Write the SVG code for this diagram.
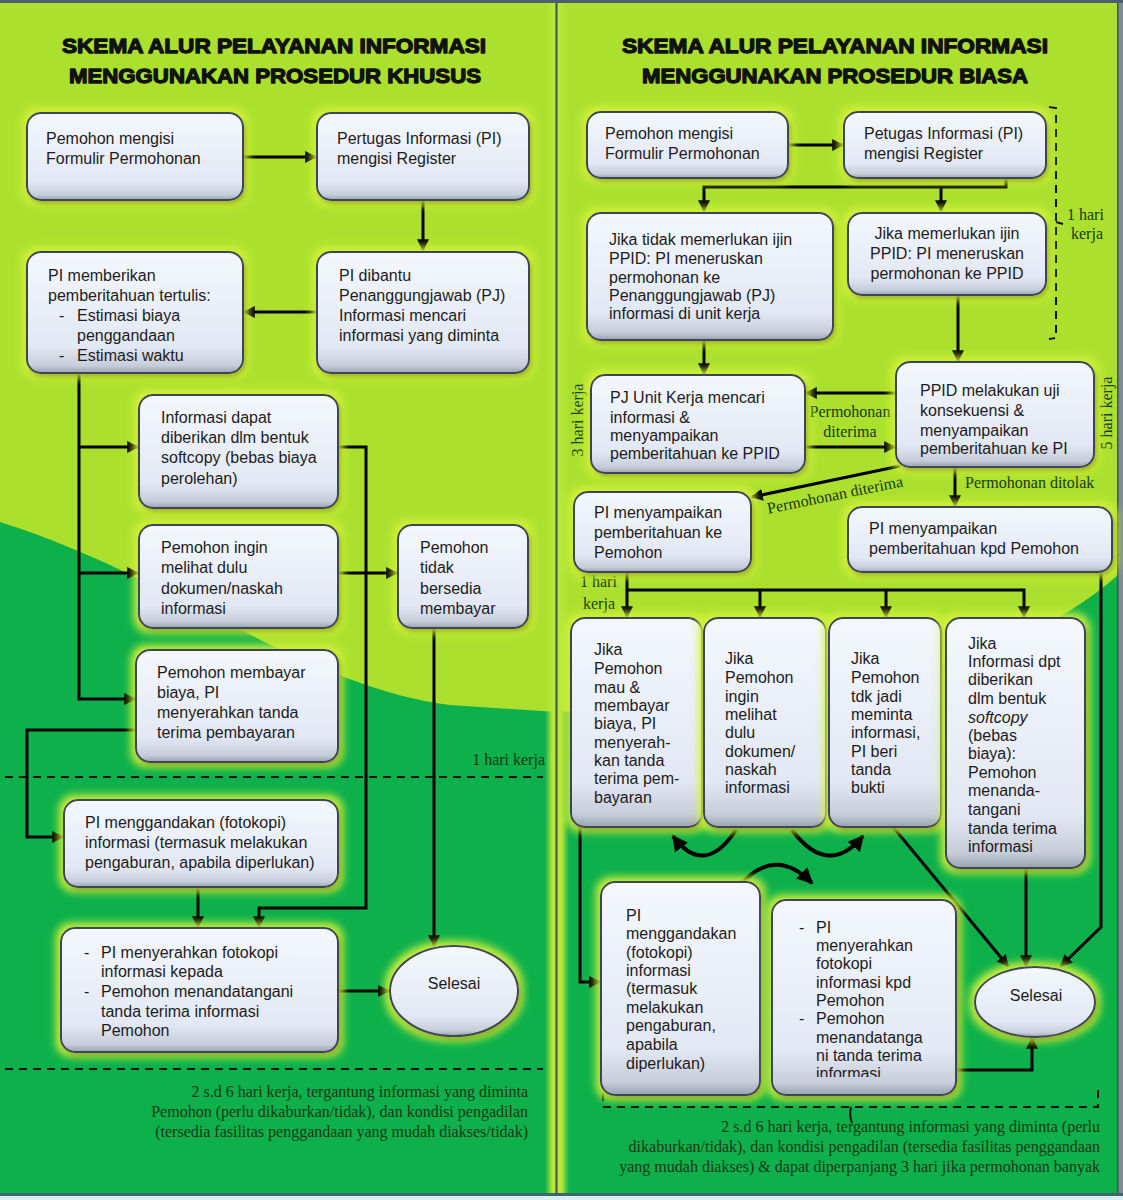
<svg xmlns="http://www.w3.org/2000/svg" width="1123" height="1200" viewBox="0 0 1123 1200">
<defs>
<style>
.t{font-family:"Liberation Sans",Arial,sans-serif;font-size:16px;fill:#1c1c1c}
.s{font-family:"Liberation Serif","Times New Roman",serif;font-size:16px;fill:#1a3814}
.ti{font-family:"Liberation Sans",Arial,sans-serif;font-weight:bold;font-size:21px;fill:#111;stroke:#111;stroke-width:1.3;stroke-linejoin:round;text-anchor:middle}
.box{fill:url(#bg);stroke:#3a4656;stroke-width:2;filter:url(#glow)}
.c{fill:none;stroke:#000;stroke-width:3;marker-end:url(#ah)}
.cv{fill:none;stroke:#000;stroke-width:4;marker-end:url(#ah)}
.d{fill:none;stroke:#111;stroke-width:2;stroke-dasharray:8 6}
</style>
<linearGradient id="bg" x1="0" y1="0" x2="0" y2="1">
<stop offset="0" stop-color="#f4f7fd"/>
<stop offset="0.78" stop-color="#e2e8f4"/>
<stop offset="0.94" stop-color="#c6cdd9"/>
<stop offset="1" stop-color="#98a1ae"/>
</linearGradient>
<linearGradient id="dg" x1="0" y1="0" x2="1" y2="0">
<stop offset="0" stop-color="#b6e63a" stop-opacity="0"/>
<stop offset="0.3" stop-color="#b6e63a"/>
<stop offset="0.7" stop-color="#b6e63a"/>
<stop offset="1" stop-color="#b6e63a" stop-opacity="0"/>
</linearGradient>
<filter id="glow" x="-25%" y="-25%" width="150%" height="150%">
<feMorphology in="SourceAlpha" operator="dilate" radius="4" result="d"/>
<feGaussianBlur in="d" stdDeviation="4" result="b"/>
<feFlood flood-color="#d6f23c"/>
<feComposite in2="b" operator="in" result="g"/>
<feGaussianBlur in="SourceAlpha" stdDeviation="2" result="s"/>
<feOffset in="s" dx="2" dy="3" result="so"/>
<feFlood flood-color="#000" flood-opacity="0.45"/>
<feComposite in2="so" operator="in" result="sh"/>
<feMerge><feMergeNode in="g"/><feMergeNode in="sh"/><feMergeNode in="SourceGraphic"/></feMerge>
</filter>
<marker id="ah" viewBox="0 0 10 10" refX="9" refY="5" markerWidth="4" markerHeight="4" orient="auto" markerUnits="strokeWidth">
<path d="M0,0 L10,5 L0,10 z" fill="#000"/>
</marker>
<clipPath id="clip14"><rect x="772" y="900" width="184" height="177"/></clipPath>
</defs>

<!-- background -->
<rect x="0" y="0" width="1123" height="1200" fill="#d8eef0"/>
<rect x="0" y="3" width="557" height="1190" fill="#abe12e"/>
<path d="M0,522 C170,575 300,685 450,705 L557,712 V1193 H0 Z" fill="#0db04b"/>
<rect x="557" y="3" width="561" height="1190" fill="#abe12e"/>
<path d="M557,712 C800,700 1000,680 1118,575 V1193 H557 Z" fill="#0db04b"/>
<rect x="545" y="3" width="24" height="1190" fill="url(#dg)"/>
<rect x="555.5" y="3" width="2" height="1190" fill="#3d5548"/>
<rect x="1117" y="3" width="6" height="1190" fill="#7d8c90"/>
<rect x="1117" y="3" width="1.5" height="1190" fill="#41525a"/>
<rect x="0" y="0" width="1123" height="3" fill="#4b5f70"/>
<rect x="0" y="1193" width="1123" height="3" fill="#3f6670"/>

<!-- titles -->
<text class="ti" x="274" y="53" textLength="424" lengthAdjust="spacingAndGlyphs">SKEMA ALUR PELAYANAN INFORMASI</text>
<text class="ti" x="275" y="83" textLength="412" lengthAdjust="spacingAndGlyphs">MENGGUNAKAN PROSEDUR KHUSUS</text>
<text class="ti" x="835" y="53" textLength="426" lengthAdjust="spacingAndGlyphs">SKEMA ALUR PELAYANAN INFORMASI</text>
<text class="ti" x="835" y="83" textLength="386" lengthAdjust="spacingAndGlyphs">MENGGUNAKAN PROSEDUR BIASA</text>

<!-- connectors -->
<g id="connectors">
<path class="c" d="M243,157 H316"/>
<path class="c" d="M423,200 V250"/>
<path class="c" d="M317,312 H244"/>
<path class="c" d="M79,373 V699 H135"/>
<path class="c" d="M79,447 H138"/>
<path class="c" d="M79,573 H138"/>
<path class="c" d="M338,447 H366 V908 H259 V927"/>
<path class="c" d="M338,573 H397"/>
<path class="c" d="M434,628 V946"/>
<path class="c" d="M136,730 H27 V837 H63"/>
<path class="c" d="M198,887 V927"/>
<path class="c" d="M338,991 H389"/>

<path class="c" d="M788,145 H843"/>
<path class="c" d="M1006,178 V187 H704 V211"/>
<path class="c" d="M941,187 V211"/>
<path class="c" d="M958,295 V361"/>
<path class="c" d="M704,340 V374"/>
<path class="c" d="M896,393 H806"/>
<path class="c" d="M805,447 H895"/>
<path class="c" d="M900,466 L752,497"/>
<path class="c" d="M955,467 V506"/>
<path class="c" d="M627,572 V617"/>
<path class="c" d="M627,590 H1024 V617"/>
<path class="c" d="M760,590 V617"/>
<path class="c" d="M886,590 V617"/>
<path class="c" d="M580,827 V982 H600"/>
<path class="c" d="M893,827 L1008,966"/>
<path class="c" d="M1026,868 V966"/>
<path class="c" d="M1101,572 V927 L1061,966"/>
<path class="c" d="M956,1070 H1032 V1038"/>
<path class="cv" d="M736,830 Q704,878 673,836"/>
<path class="cv" d="M792,830 Q828,878 863,836"/>
<path class="cv" d="M743,882 Q776,847 812,883"/>
</g>

<!-- dashed lines / brackets -->
<path class="d" d="M5,777 H543"/>
<path class="d" d="M5,1069 H543"/>
<path class="d" d="M1049,107 L1056,108 V338 L1049,339" stroke-dasharray="7 5"/>
<path d="M1056,222 L1063,224" stroke="#111" stroke-width="2"/>
<path class="d" d="M603,1093 V1107 H1098 V1088"/>
<path d="M851,1107 Q849,1115 852,1123" stroke="#111" stroke-width="2" fill="none"/>

<!-- labels -->
<text class="s" x="545" y="765" text-anchor="end">1 hari kerja</text>
<text class="s" x="528" y="1097" text-anchor="end">2 s.d 6 hari kerja, tergantung informasi yang diminta</text>
<text class="s" x="528" y="1117" text-anchor="end">Pemohon (perlu dikaburkan/tidak), dan kondisi pengadilan</text>
<text class="s" x="528" y="1137" text-anchor="end">(tersedia fasilitas penggandaan yang mudah diakses/tidak)</text>
<text class="s" x="1067" y="220">1 hari</text>
<text class="s" x="1071" y="239">kerja</text>
<text class="s" transform="translate(583,420) rotate(-90)" text-anchor="middle">3 hari kerja</text>
<text class="s" transform="translate(1112,413) rotate(-90)" text-anchor="middle">5 hari kerja</text>
<text class="s" x="850" y="417" text-anchor="middle">Permohonan</text>
<text class="s" x="850" y="437" text-anchor="middle">diterima</text>
<text class="s" transform="translate(836,500) rotate(-11.5)" text-anchor="middle">Permohonan diterima</text>
<text class="s" x="965" y="488">Permohonan ditolak</text>
<text class="s" x="580" y="587">1 hari</text>
<text class="s" x="583" y="609">kerja</text>
<text class="s" x="1100" y="1132" text-anchor="end">2 s.d 6 hari kerja, tergantung informasi yang diminta (perlu</text>
<text class="s" x="1100" y="1152" text-anchor="end">dikaburkan/tidak), dan kondisi pengadilan (tersedia fasilitas penggandaan</text>
<text class="s" x="1100" y="1172" text-anchor="end">yang mudah diakses) &amp; dapat diperpanjang 3 hari jika permohonan banyak</text>

<!-- left nodes -->
<g id="nodeA"><rect class="box" x="27" y="113" width="216" height="87" rx="14"/>
<text class="t"><tspan x="46" y="144">Pemohon mengisi</tspan><tspan x="46" y="164">Formulir Permohonan</tspan></text></g>
<g id="nodeB"><rect class="box" x="317" y="113" width="212" height="87" rx="14"/>
<text class="t"><tspan x="337" y="144">Pertugas Informasi (PI)</tspan><tspan x="337" y="164">mengisi Register</tspan></text></g>
<g id="nodeC"><rect class="box" x="317" y="252" width="212" height="121" rx="14"/>
<text class="t"><tspan x="339" y="281">PI dibantu</tspan><tspan x="339" y="301">Penanggungjawab (PJ)</tspan><tspan x="339" y="321">Informasi mencari</tspan><tspan x="339" y="341">informasi yang diminta</tspan></text></g>
<g id="nodeD"><rect class="box" x="27" y="252" width="216" height="121" rx="14"/>
<text class="t"><tspan x="48" y="281">PI memberikan</tspan><tspan x="48" y="301">pemberitahuan tertulis:</tspan><tspan x="59" y="321">-</tspan><tspan x="77" y="321">Estimasi biaya</tspan><tspan x="77" y="341">penggandaan</tspan><tspan x="59" y="361">-</tspan><tspan x="77" y="361">Estimasi waktu</tspan></text></g>
<g id="nodeE"><rect class="box" x="139" y="395" width="199" height="113" rx="14"/>
<text class="t"><tspan x="161" y="423">Informasi dapat</tspan><tspan x="161" y="443">diberikan dlm bentuk</tspan><tspan x="161" y="463">softcopy (bebas biaya</tspan><tspan x="161" y="484">perolehan)</tspan></text></g>
<g id="nodeF"><rect class="box" x="139" y="525" width="199" height="103" rx="14"/>
<text class="t"><tspan x="161" y="553">Pemohon ingin</tspan><tspan x="161" y="573">melihat dulu</tspan><tspan x="161" y="594">dokumen/naskah</tspan><tspan x="161" y="614">informasi</tspan></text></g>
<g id="nodeH"><rect class="box" x="398" y="525" width="130" height="103" rx="14"/>
<text class="t"><tspan x="420" y="553">Pemohon</tspan><tspan x="420" y="573">tidak</tspan><tspan x="420" y="594">bersedia</tspan><tspan x="420" y="614">membayar</tspan></text></g>
<g id="nodeG"><rect class="box" x="136" y="650" width="202" height="112" rx="14"/>
<text class="t"><tspan x="157" y="678">Pemohon membayar</tspan><tspan x="157" y="698">biaya, PI</tspan><tspan x="157" y="718">menyerahkan tanda</tspan><tspan x="157" y="738">terima pembayaran</tspan></text></g>
<g id="nodeI"><rect class="box" x="64" y="800" width="274" height="87" rx="14"/>
<text class="t"><tspan x="85" y="828">PI menggandakan (fotokopi)</tspan><tspan x="85" y="848">informasi (termasuk melakukan</tspan><tspan x="85" y="868">pengaburan, apabila diperlukan)</tspan></text></g>
<g id="nodeJ"><rect class="box" x="61" y="928" width="277" height="124" rx="14"/>
<text class="t"><tspan x="84" y="958">-</tspan><tspan x="101" y="958">PI menyerahkan fotokopi</tspan><tspan x="101" y="977">informasi kepada</tspan><tspan x="84" y="997">-</tspan><tspan x="101" y="997">Pemohon menandatangani</tspan><tspan x="101" y="1017">tanda terima informasi</tspan><tspan x="101" y="1036">Pemohon</tspan></text></g>
<g id="selesaiL"><ellipse class="box" cx="454" cy="991" rx="64" ry="45"/>
<text class="t" x="454" y="989" text-anchor="middle">Selesai</text></g>

<!-- right nodes -->
<g id="R1"><rect class="box" x="587" y="112" width="201" height="66" rx="14"/>
<text class="t"><tspan x="605" y="139">Pemohon mengisi</tspan><tspan x="605" y="159">Formulir Permohonan</tspan></text></g>
<g id="R2"><rect class="box" x="844" y="112" width="202" height="66" rx="14"/>
<text class="t"><tspan x="864" y="139">Petugas Informasi (PI)</tspan><tspan x="864" y="159">mengisi Register</tspan></text></g>
<g id="R3"><rect class="box" x="587" y="213" width="246" height="127" rx="14"/>
<text class="t"><tspan x="609" y="245">Jika tidak memerlukan ijin</tspan><tspan x="609" y="264">PPID: PI meneruskan</tspan><tspan x="609" y="283">permohonan ke</tspan><tspan x="609" y="301">Penanggungjawab (PJ)</tspan><tspan x="609" y="319">informasi di unit kerja</tspan></text></g>
<g id="R4"><rect class="box" x="848" y="213" width="198" height="82" rx="14"/>
<text class="t" text-anchor="middle"><tspan x="947" y="239">Jika memerlukan ijin</tspan><tspan x="947" y="259">PPID: PI meneruskan</tspan><tspan x="947" y="279">permohonan ke PPID</tspan></text></g>
<g id="R5"><rect class="box" x="591" y="375" width="214" height="98" rx="14"/>
<text class="t"><tspan x="610" y="403">PJ Unit Kerja mencari</tspan><tspan x="610" y="423">informasi &amp;</tspan><tspan x="610" y="441">menyampaikan</tspan><tspan x="610" y="459">pemberitahuan ke PPID</tspan></text></g>
<g id="R6"><rect class="box" x="896" y="362" width="198" height="105" rx="14"/>
<text class="t"><tspan x="920" y="396">PPID melakukan uji</tspan><tspan x="920" y="416">konsekuensi &amp;</tspan><tspan x="920" y="436">menyampaikan</tspan><tspan x="920" y="454">pemberitahuan ke PI</tspan></text></g>
<g id="R7"><rect class="box" x="574" y="492" width="177" height="80" rx="14"/>
<text class="t"><tspan x="594" y="518">PI menyampaikan</tspan><tspan x="594" y="538">pemberitahuan ke</tspan><tspan x="594" y="558">Pemohon</tspan></text></g>
<g id="R8"><rect class="box" x="848" y="507" width="264" height="65" rx="14"/>
<text class="t"><tspan x="869" y="534">PI menyampaikan</tspan><tspan x="869" y="554">pemberitahuan kpd Pemohon</tspan></text></g>
<g id="R9"><rect class="box" x="571" y="618" width="131" height="209" rx="14"/>
<text class="t"><tspan x="594" y="655">Jika</tspan><tspan x="594" y="674">Pemohon</tspan><tspan x="594" y="693">mau &amp;</tspan><tspan x="594" y="711">membayar</tspan><tspan x="594" y="729">biaya, PI</tspan><tspan x="594" y="748">menyerah-</tspan><tspan x="594" y="766">kan tanda</tspan><tspan x="594" y="784">terima pem-</tspan><tspan x="594" y="803">bayaran</tspan></text></g>
<g id="R10"><rect class="box" x="704" y="618" width="122" height="209" rx="14"/>
<text class="t"><tspan x="725" y="664">Jika</tspan><tspan x="725" y="683">Pemohon</tspan><tspan x="725" y="702">ingin</tspan><tspan x="725" y="720">melihat</tspan><tspan x="725" y="738">dulu</tspan><tspan x="725" y="757">dokumen/</tspan><tspan x="725" y="775">naskah</tspan><tspan x="725" y="793">informasi</tspan></text></g>
<g id="R11"><rect class="box" x="829" y="618" width="112" height="209" rx="14"/>
<text class="t"><tspan x="851" y="664">Jika</tspan><tspan x="851" y="683">Pemohon</tspan><tspan x="851" y="702">tdk jadi</tspan><tspan x="851" y="720">meminta</tspan><tspan x="851" y="738">informasi,</tspan><tspan x="851" y="757">PI beri</tspan><tspan x="851" y="775">tanda</tspan><tspan x="851" y="793">bukti</tspan></text></g>
<g id="R12"><rect class="box" x="946" y="618" width="139" height="250" rx="14"/>
<text class="t"><tspan x="968" y="649">Jika</tspan><tspan x="968" y="667">Informasi dpt</tspan><tspan x="968" y="685">diberikan</tspan><tspan x="968" y="704">dlm bentuk</tspan><tspan x="968" y="723" font-style="italic">softcopy</tspan><tspan x="968" y="741">(bebas</tspan><tspan x="968" y="759">biaya):</tspan><tspan x="968" y="778">Pemohon</tspan><tspan x="968" y="796">menanda-</tspan><tspan x="968" y="815">tangani</tspan><tspan x="968" y="834">tanda terima</tspan><tspan x="968" y="852">informasi</tspan></text></g>
<g id="R13"><rect class="box" x="601" y="882" width="159" height="213" rx="14"/>
<text class="t"><tspan x="626" y="921">PI</tspan><tspan x="626" y="939">menggandakan</tspan><tspan x="626" y="958">(fotokopi)</tspan><tspan x="626" y="976">informasi</tspan><tspan x="626" y="994">(termasuk</tspan><tspan x="626" y="1013">melakukan</tspan><tspan x="626" y="1031">pengaburan,</tspan><tspan x="626" y="1050">apabila</tspan><tspan x="626" y="1069">diperlukan)</tspan></text></g>
<g id="R14"><rect class="box" x="772" y="900" width="184" height="195" rx="14"/>
<text class="t" clip-path="url(#clip14)"><tspan x="799" y="933">-</tspan><tspan x="816" y="933">PI</tspan><tspan x="816" y="951">menyerahkan</tspan><tspan x="816" y="969">fotokopi</tspan><tspan x="816" y="988">informasi kpd</tspan><tspan x="816" y="1006">Pemohon</tspan><tspan x="799" y="1024">-</tspan><tspan x="816" y="1024">Pemohon</tspan><tspan x="816" y="1043">menandatanga</tspan><tspan x="816" y="1061">ni tanda terima</tspan><tspan x="816" y="1079">informasi</tspan></text></g>
<g id="selesaiR"><ellipse class="box" cx="1035" cy="1002" rx="60" ry="35"/>
<text class="t" x="1036" y="1001" text-anchor="middle">Selesai</text></g>
</svg>
